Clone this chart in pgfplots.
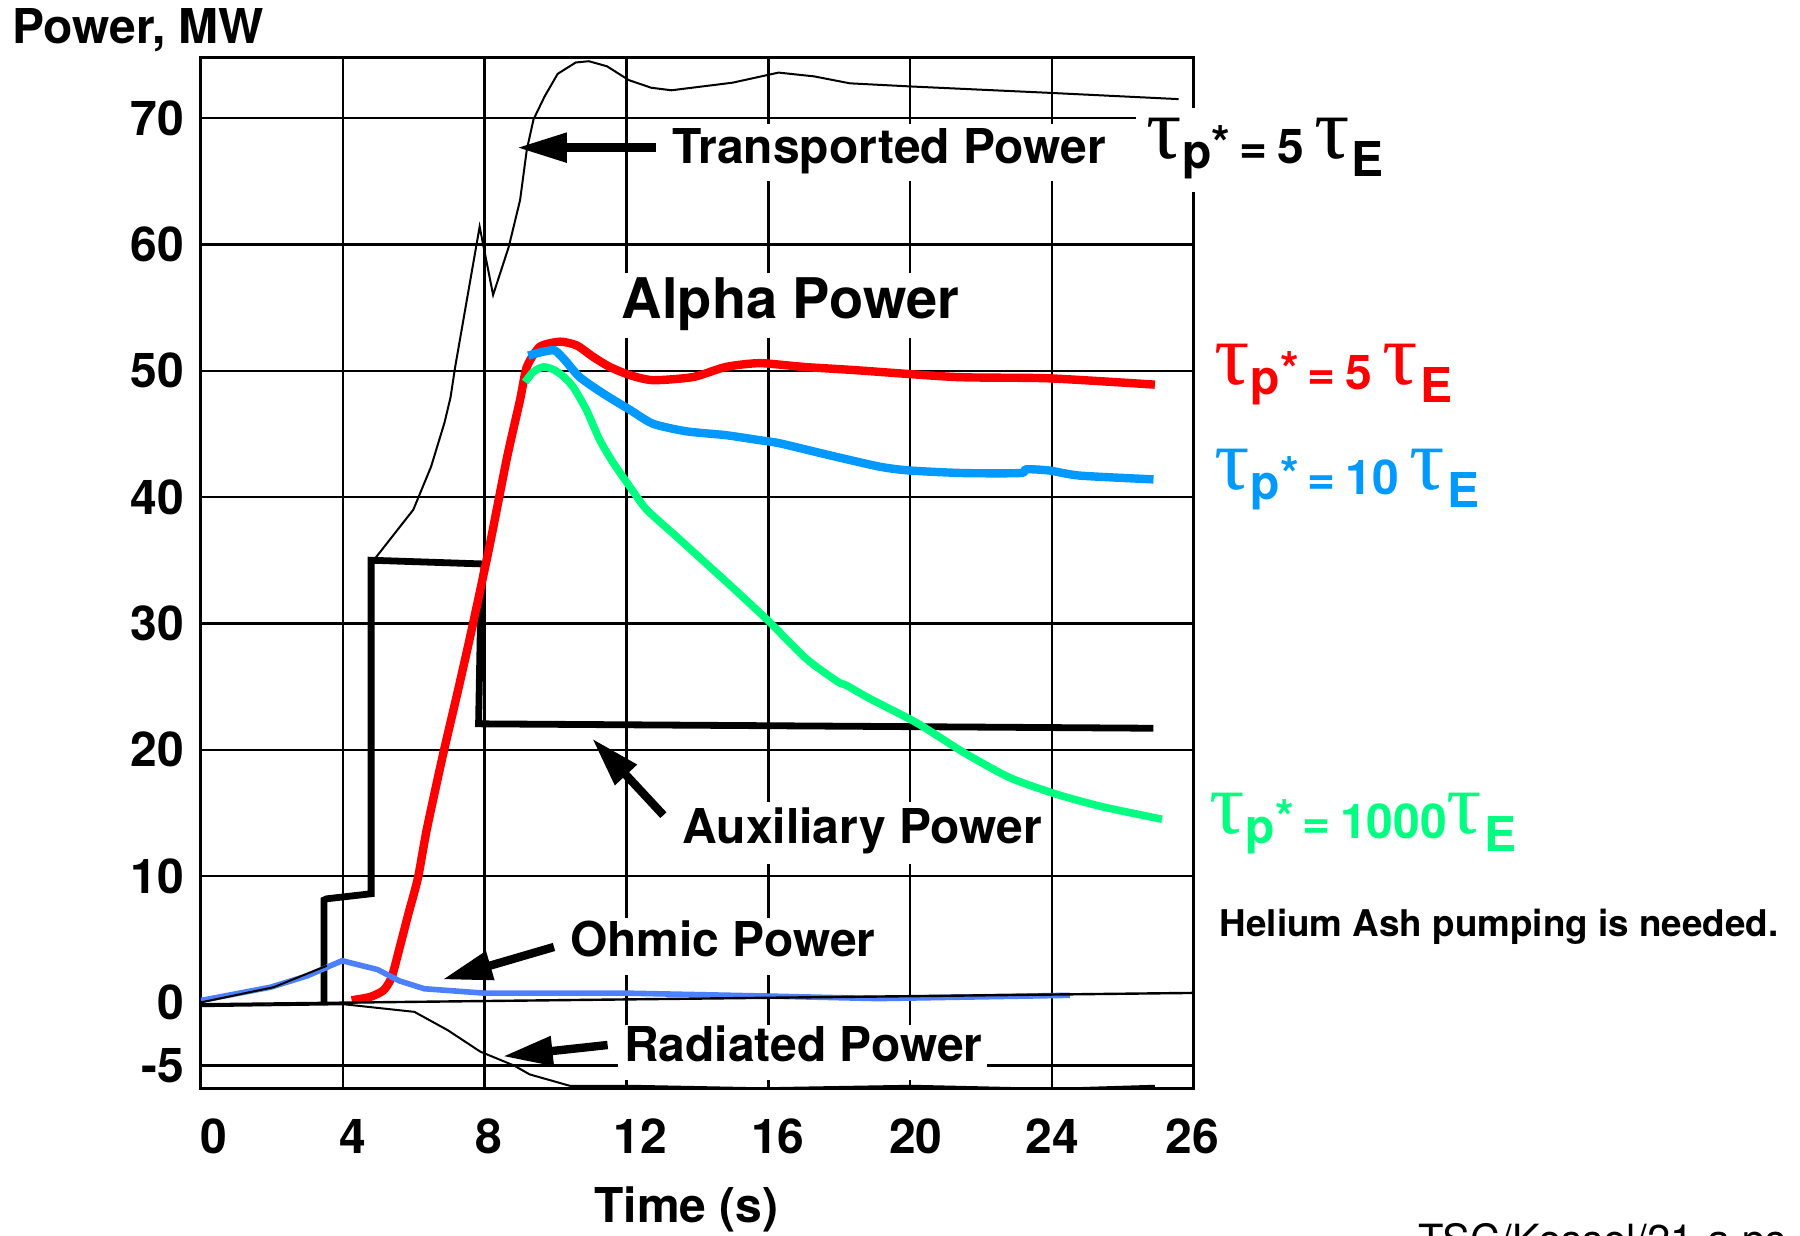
\documentclass[border=0pt]{standalone}
\usepackage{graphicx}
\usepackage{fontspec}
\setmainfont{TeX Gyre Heros}
\newfontfamily\grk{Liberation Serif}
\usepackage{pgfplots}
\pgfplotsset{compat=1.18}
\usetikzlibrary{arrows.meta}
\definecolor{alphared}{RGB}{255,0,0}
\definecolor{tauten}{RGB}{0,153,255}
\definecolor{tauthou}{RGB}{0,255,128}
\definecolor{ohmic}{RGB}{77,128,255}
\newcommand\B[1]{\fontsize{#1}{#1}\selectfont\bfseries}
\newcommand\TAU{\raisebox{1.2pt}{\grk\mdseries\fontsize{22}{22}\selectfont τ}}
\newcommand\taup{\TAU\kern0.1pt{\fontsize{12}{12}\selectfont\raisebox{-1.25pt}{p}}\kern0.1pt\raisebox{0.8pt}{*}}
\newcommand\tauE{\TAU\kern0.5pt{\fontsize{12}{12}\selectfont\raisebox{-3.3pt}{E}}}
\begin{document}
\begin{tikzpicture}
\useasboundingbox (0,0) rectangle (450pt,-308.8pt);
\begin{axis}[
  at={(50.223pt,-272.067pt)}, anchor=south west,
  scale only axis, width=248.25pt, height=257.72pt,
  xmin=0, xmax=28, ymin=-6.8, ymax=74.8,
  axis line style={black, line width=0.8pt},
  xtick={0,4,8,12,16,20,24,28},
  xticklabels={\hspace*{6.3pt}0,\hspace*{4.8pt}4,\hspace*{2.2pt}8,\hspace*{7.1pt}12,\hspace*{4.7pt}16,\hspace*{2.9pt}20,\hspace*{0.3pt}24,\hspace*{-0.9pt}26},
  ytick={-5,10,20,30,40,50,60,70},
  yticklabels={-5,10,20,30,40,50,60,70},
  extra y ticks={0}, extra y tick labels={0},
  extra y tick style={grid=none},
  grid=major, major grid style={black, line width=0.6pt},
  major tick length=0pt,
  ticklabel style={font=\B{12}},
  xticklabel style={anchor=base, yshift=-16.2pt},
  yticklabel style={anchor=east, xshift=-0.7pt},
]
% Auxiliary power
\addplot[black, line width=1.7pt] coordinates {
(3.47,0) (3.47,8.1) (3.55,8.2) (4.8,8.6) (4.8,35.0) (8.0,34.7) (7.9,32.8) (7.83,22.05) (26.86,21.7)};
% Alpha power, tau_p* = 5 tau_E
\addplot[alphared, line width=2.1pt, smooth, tension=0.4] coordinates {
(4.25,0.17) (4.77,0.43) (5.15,0.96) (5.38,2.0) (5.61,4.4) (5.85,7.0) (6.12,9.85) (6.37,13.7) (6.81,19.4) (7.25,24.7) (7.62,29.3) (8.13,36.0) (8.63,43.1) (9.0,47.7) (9.19,50.3) (9.56,51.9) (10.13,52.3) (10.6,52.0) (11.06,51.1) (11.53,50.3) (12.1,49.65) (12.75,49.25) (13.88,49.5) (14.8,50.3) (15.76,50.6) (17.0,50.3) (18.43,50.05) (21.3,49.5) (23.9,49.4) (26.9,48.9)};
% tau_p* = 1000 tau_E
\addplot[tauthou, line width=1.9pt, smooth, tension=0.4] coordinates {
(9.14,49.1) (9.37,49.9) (9.65,50.3) (9.94,50.1) (10.2,49.6) (10.5,48.7) (10.87,46.9) (11.25,44.5) (11.63,42.7) (12.1,40.8) (12.57,39.0) (13.4,36.9) (14.93,33.0) (16.0,30.2) (17.07,27.2) (17.95,25.4) (18.2,25.1) (18.86,24.05) (20.2,22.1) (21.5,19.8) (22.8,17.8) (24.1,16.5) (25.4,15.5) (27.1,14.5)};
% tau_p* = 10 tau_E
\addplot[tauten, line width=2.1pt, smooth, tension=0.4] coordinates {
(9.23,51.2) (9.65,51.5) (9.98,51.6) (10.26,50.85) (10.68,49.5) (11.34,48.2) (12.1,46.9) (12.75,45.8) (13.7,45.2) (14.8,44.9) (15.76,44.5) (16.33,44.25) (17.74,43.3) (19.15,42.4) (20.0,42.1) (21.5,41.9) (23.1,41.9) (23.28,42.2) (23.93,42.1) (24.78,41.7) (26.86,41.4)};
% Ohmic power
\addplot[ohmic, line width=1.4pt] coordinates {
(0,0.15) (1.96,1.2) (3.0,2.1) (3.98,3.3) (4.98,2.6) (5.6,1.7) (6.3,1.08) (8.0,0.73) (12.03,0.73) (15.99,0.5) (19.1,0.3) (24.5,0.56)};
% Transported power
\addplot[black, line width=0.5pt] coordinates {
(0,0) (2.05,1.2) (3.55,2.9)};
\addplot[black, line width=0.5pt] coordinates {
(4.9,35.1) (5.99,39.0) (6.49,42.4) (6.87,45.9) (7.04,47.9) (7.17,50.3) (7.86,61.4) (8.24,56.0) (8.68,59.8) (9.0,63.5) (9.19,67.5) (9.38,69.9) (9.69,71.7) (10.06,73.5) (10.57,74.4) (10.94,74.5) (11.45,74.1) (12.07,73.0) (12.7,72.4) (13.27,72.2) (14.99,72.8) (16.29,73.6) (17.29,73.3) (18.3,72.75) (20.03,72.5) (23.9,72.0) (27.57,71.5)};
% Radiated power
\addplot[black, line width=0.5pt] coordinates {
(0,-0.3) (4.04,-0.15) (6.02,-0.75) (6.96,-2.2) (7.88,-3.9) (8.83,-5.0) (9.27,-5.7) (10.4,-6.6) (12.1,-6.6) (15.8,-6.8) (20.05,-6.6) (24.0,-6.85) (26.9,-6.6)};
% zero line
\addplot[black, line width=0.6pt] coordinates {(0,-0.15) (28,0.75)};
\end{axis}
\begin{scope}[x=0.28699pt,y=-0.28699pt]
% white boxes under annotations
\fill[white] (580,108) rectangle (968,158);
\fill[white] (990,94) rectangle (1210,167);
\fill[white] (536,238) rectangle (838,294);
\fill[white] (588,699) rectangle (910,753);
\fill[white] (490,800) rectangle (766,849);
\fill[white] (538,893) rectangle (860,941);
% texts
\node[anchor=base west, inner sep=0pt] at (10,38) {\B{12}Power, MW};
\node[anchor=base west, inner sep=0pt] at (585,142) {\B{12}Transported Power};
\node[anchor=base west, inner sep=0pt] at (998,142.3) {\B{12}\taup\kern2.2pt=\kern2.4pt5\kern2.7pt\tauE};
\node[anchor=base west, inner sep=0pt] at (541,277) {\B{14}Alpha Power};
\node[anchor=base west, inner sep=0pt, text=alphared] at (1057.6,339.5) {\B{12}\taup\kern2.2pt=\kern2.4pt5\kern2.7pt\tauE};
\node[anchor=base west, inner sep=0pt, text=tauten] at (1057.6,431) {\B{12}\taup\kern2.2pt=\kern2.4pt10\kern2.7pt\tauE};
\node[anchor=base west, inner sep=0pt, text=tauthou] at (1053,730) {\B{12}\taup\kern2.2pt=\kern2.4pt1000\tauE};
\node[anchor=base west, inner sep=0pt] at (1062,816) {\B{9.2}Helium Ash pumping is needed.};
\node[anchor=base west, inner sep=0pt] at (594,735) {\B{12}Auxiliary Power};
\node[anchor=base west, inner sep=0pt] at (496,833) {\B{12}Ohmic Power};
\node[anchor=base west, inner sep=0pt] at (543,925) {\B{12}Radiated Power};
\node[anchor=base, inner sep=0pt] at (598,1065) {\B{12}Time (s)};
\node[anchor=base west, inner sep=0pt] at (1235,1093) {\fontsize{10.4}{10.4}\selectfont TSC/Kessel/21-a.ps};
% arrows
\begin{scope}[line width=2.1pt, -{Triangle[length=12.5pt,width=7pt]}]
\draw (571.6,128.6) -- (450.3,128.6);
\draw (577.9,710.1) -- (515.7,643.2);
\draw (482.6,824.9) -- (385.3,853.3);
\draw (529.3,910.3) -- (437.9,920.2);
\end{scope}
\end{scope}
\end{tikzpicture}
\end{document}
